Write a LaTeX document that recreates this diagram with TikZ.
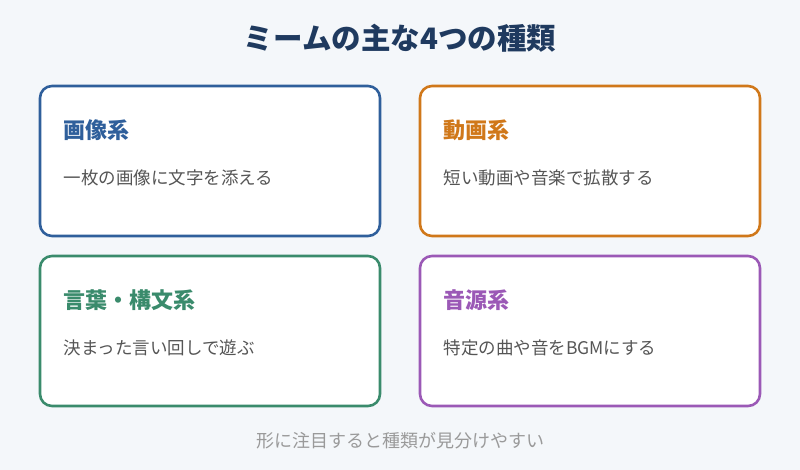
\documentclass[tikz,border=0pt]{standalone}
\usepackage{fontspec}
\setmainfont{Noto Sans CJK JP}
\definecolor{bg}{HTML}{F4F7FA}
\definecolor{navy}{HTML}{1F3A5F}
\definecolor{cblue}{HTML}{2F5F9B}
\definecolor{corange}{HTML}{D0781A}
\definecolor{cgreen}{HTML}{3A8B6C}
\definecolor{cpurple}{HTML}{9B59B6}
\definecolor{body}{HTML}{555555}
\definecolor{foot}{HTML}{9A9A9A}
\tikzset{x=1pt,y=-1pt,
 card/.style={draw=#1,line width=2.6pt,fill=white,rounded corners=12pt},
 head/.style={anchor=west,text=#1,font=\fontsize{22}{26}\selectfont\bfseries},
 desc/.style={anchor=west,text=body,font=\fontsize{17.5}{21}\selectfont}}
\begin{document}
\begin{tikzpicture}
\fill[bg] (0,0) rectangle (800,470);
\useasboundingbox (0,0) rectangle (800,470);
\node[text=navy,font=\fontsize{29.5}{34}\selectfont\bfseries] (title) at (400,38) {ミームの主な4つの種類};
\node[card=cblue,minimum width=340pt,minimum height=150pt] (c1) at (210,161) {};
\node[card=corange,minimum width=340pt,minimum height=150pt] (c2) at (590,161) {};
\node[card=cgreen,minimum width=340pt,minimum height=150pt] (c3) at (210,331) {};
\node[card=cpurple,minimum width=340pt,minimum height=150pt] (c4) at (590,331) {};
\node[head=cblue] (h1) at (60,130) {画像系};
\node[desc] (d1) at (60,178) {一枚の画像に文字を添える};
\node[head=corange] (h2) at (440,130) {動画系};
\node[desc] (d2) at (440,178) {短い動画や音楽で拡散する};
\node[head=cgreen] (h3) at (60,300) {言葉・構文系};
\node[desc] (d3) at (60,348) {決まった言い回しで遊ぶ};
\node[head=cpurple] (h4) at (440,300) {音源系};
\node[desc] (d4) at (440,348) {特定の曲や音をBGMにする};
\node[text=foot,font=\fontsize{18}{21}\selectfont] (f) at (400,441) {形に注目すると種類が見分けやすい};
\end{tikzpicture}
\end{document}
